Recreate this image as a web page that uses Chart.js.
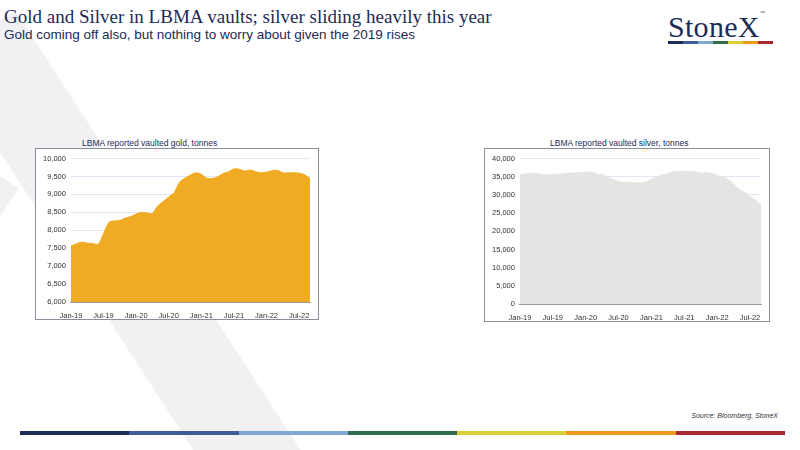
<!DOCTYPE html>
<html>
<head>
<meta charset="utf-8">
<script src="https://cdn.jsdelivr.net/npm/chart.js@4"></script>
<style>
  body { margin:0; width:800px; height:450px; position:relative; overflow:hidden; background:#fff; font-family:"Liberation Sans", Arial, sans-serif; }
  .stripe { position:absolute; left:-60px; top:60px; width:90px; height:600px; background:#f1f1f3; transform:rotate(-33deg); transform-origin:0 0; }
  .stripe2 { position:absolute; left:-40px; top:150px; width:70px; height:400px; background:#f1f1f3; transform:rotate(33deg); transform-origin:0 0; }
  #title { position:absolute; left:4px; top:6px; font-family:"Liberation Serif", serif; font-size:19px; color:#1c2a57; }
  #sub { position:absolute; left:4px; top:27px; font-size:13.5px; color:#1c2a57; }
  #logo { position:absolute; left:668px; top:10px; font-family:"Liberation Serif", serif; font-size:30px; color:#1c2d55; letter-spacing:0.3px; }
  .ctitle { position:absolute; font-size:8.5px; color:#1c2a57; }
  .box { position:absolute; border:1.5px solid #8a8d9a; background:#fff; }
  #src { position:absolute; right:22px; top:412px; font-size:7px; font-style:italic; color:#333; }
  .bar { position:absolute; top:431px; height:4px; }
  .lbar { position:absolute; top:41px; height:3px; }
</style>
</head>
<body>
<div class="stripe"></div>
<div class="stripe2"></div>
<div id="title">Gold and Silver in LBMA vaults; silver sliding heavily this year</div>
<div id="sub">Gold coming off also, but nothing to worry about given the 2019 rises</div>
<div id="logo">StoneX<span style="font-size:5px;vertical-align:top">™</span></div>
<div class="ctitle" style="left:82px;top:138px">LBMA reported vaulted gold, tonnes</div>
<div class="ctitle" style="left:550px;top:138px">LBMA reported vaulted silver, tonnes</div>
<div class="box" style="left:35px;top:148px;width:282px;height:170px"><canvas id="gold"></canvas></div>
<div class="box" style="left:484px;top:148px;width:284px;height:172px"><canvas id="silver"></canvas></div>
<div id="src">Source: Bloomberg, StoneX</div>
<div id="bars"></div>
<script>
var months = ['Jan','Feb','Mar','Apr','May','Jun','Jul','Aug','Sep','Oct','Nov','Dec'];
var labels = [];
for (var y = 19; y <= 22; y++) {
    for (var m = 0; m < 12; m++) {
        if (y == 22 && m > 8) break;
        labels.push(months[m] + '-' + y);
    }
}

var gold = [7560,7620,7670,7640,7630,7610,7900,8220,8260,8270,8340,8380,
            8450,8500,8480,8470,8680,8800,8930,9050,9340,9450,9540,9600,
            9560,9450,9440,9490,9580,9630,9710,9700,9650,9680,9630,9600,
            9620,9660,9670,9600,9600,9600,9590,9550,9440];
var silver = [35600,35700,36000,35900,35600,35500,35600,35700,35800,36000,36100,36100,
              36200,36300,35700,35600,34900,34200,33700,33400,33500,33300,33400,33500,
              34300,34900,35500,35900,36400,36500,36500,36400,36300,36000,36100,35900,
              35300,34900,34200,33000,31500,30700,29500,28500,27200];

var barColors = ['#1c2d55','#3d5c99','#7fa7d1','#2e6e48','#d9cf3a','#eb9a1f','#a82a2e'];
var bars = document.getElementById('bars');
barColors.forEach(function(c, i){
    var w = 765 / 7;
    bars.innerHTML += '<div class="bar" style="left:' + (20 + i*w) + 'px;width:' + w + 'px;background:' + c + '"></div>';
    var lw = 105 / 7;
    bars.innerHTML += '<div class="lbar" style="left:' + (668 + i*lw) + 'px;width:' + lw + 'px;background:' + c + '"></div>';
});

function make_chart(id, data, color, min, max, step){
    new Chart(document.getElementById(id), {
        type: 'line',
        data: {
            labels: labels,
            datasets: [{
                data: data,
                fill: true,
                backgroundColor: color,
                borderColor: color,
                borderWidth: 1,
                pointRadius: 0,
                tension: 0.3
            }]
        },
        options: {
            responsive: true,
            maintainAspectRatio: false,
            animation: false,
            layout: { padding: { top: 4, right: 8, left: 2, bottom: -2 } },
            plugins: { legend: { display: false }, tooltip: { enabled: false } },
            scales: {
                x: {
                    offset: false,
                    grid: { display: false },
                    border: { color: '#999' },
                    ticks: {
                        autoSkip: false, maxRotation: 0, color: '#333', padding: 1,
                        font: { size: 7.5, family: 'Liberation Sans' },
                        callback: function(v, i){ return i % 6 == 0 ? labels[i] : null; }
                    }
                },
                y: {
                    min: min, max: max,
                    grid: { color: '#dfe5f2', drawTicks: false },
                    border: { display: false },
                    ticks: {
                        stepSize: step, color: '#333', padding: 5,
                        font: { size: 7.5, family: 'Liberation Sans' },
                        callback: function(v){ return v.toLocaleString('en-US'); }
                    }
                }
            }
        }
    });
}

make_chart('gold', gold, '#f0ab24', 6000, 10000, 500);
make_chart('silver', silver, '#e4e4e4', 0, 40000, 5000);
</script>
</body>
</html>
